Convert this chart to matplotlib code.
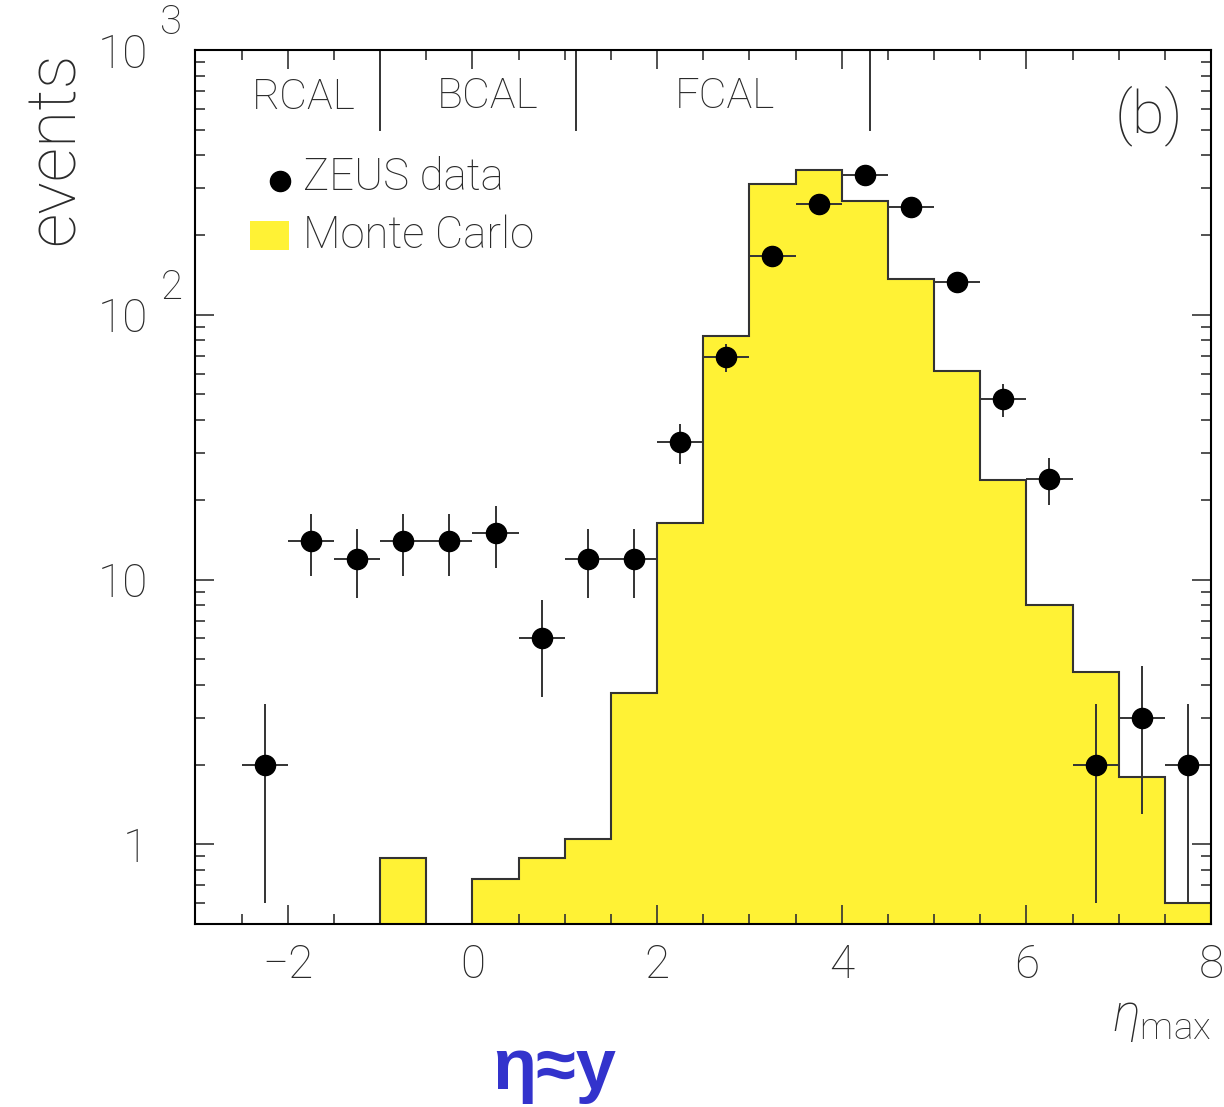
import numpy as np
import matplotlib
matplotlib.use("Agg")
import matplotlib.pyplot as plt
import matplotlib.transforms as mtransforms
from matplotlib.patches import Rectangle
from matplotlib.ticker import MultipleLocator, LogLocator, NullFormatter, FixedLocator

# ---------------- data ----------------
bin_edges = [-3.0, -2.5, -2.0, -1.5, -1.0, -0.5, 0.0, 0.5, 1.0, 1.5, 2.0, 2.5,
             3.0, 3.5, 4.0, 4.5, 5.0, 5.5, 6.0, 6.5, 7.0, 7.5, 8.0]
mc_counts = [0, 0, 0, 0, 0.89, 0, 0.74, 0.89, 1.05, 3.73, 16.4, 83,
             312, 352, 270, 136, 61.5, 23.8, 8.0, 4.48, 1.80, 0.60]

data_eta = [-2.25, -1.75, -1.25, -0.75, -0.25, 0.25, 0.75, 1.25, 1.75, 2.25, 2.75,
            3.25, 3.75, 4.25, 4.75, 5.25, 5.75, 6.25, 6.75, 7.25, 7.75]
data_events = [2, 14, 12, 14, 14, 15, 6, 12, 12, 33, 69,
               167, 262, 336, 255, 133, 48, 24, 2, 3, 2]
data_err = [1.4, 3.7, 3.5, 3.7, 3.7, 3.9, 2.4, 3.5, 3.5, 5.7, 8.3,
            12.9, 16.2, 18.3, 16.0, 11.5, 6.9, 4.9, 1.4, 1.7, 1.4]
data_xerr = [0.25] * 21

x_ticks = [-2, 0, 2, 4, 6, 8]
x_ticklabels = ["\u22122", "0", "2", "4", "6", "8"]
y_ticks = [1, 10, 100, 1000]
y_ticklabels = ["1", "10", "10", "10"]
y_superscripts = {100: "2", 1000: "3"}

region_labels = ["RCAL", "BCAL", "FCAL"]
region_label_x = [-1.83, 0.16, 2.74]
region_bounds = [-1.0, 1.12, 4.31]

# ---------------- style ----------------
plt.rcParams["font.family"] = ["Roboto", "DejaVu Sans"]
plt.rcParams["font.weight"] = "light"
plt.rcParams["mathtext.fontset"] = "custom"
plt.rcParams["mathtext.rm"] = "Roboto:light"
plt.rcParams["mathtext.it"] = "Roboto:italic:light"

TXT = "#2a2a2a"
YELLOW = "#fff235"
LINE = "#333333"

W, H = 1224, 1107
fig = plt.figure(figsize=(W / 100, H / 100), dpi=100)

ax_l, ax_r, ax_t, ax_b = 195.5, 1211, 50, 924
ax = fig.add_axes([ax_l / W, 1 - ax_b / H, (ax_r - ax_l) / W, (ax_b - ax_t) / H])

ax.set_yscale("log")
ax.set_xlim(-3, 8)
ax.set_ylim(0.5, 1000)

# Monte Carlo histogram
mc_plot = np.where(np.array(mc_counts) > 0, mc_counts, 1e-3)
ax.stairs(mc_plot, bin_edges, baseline=1e-3, fill=True, color=YELLOW, lw=0, zorder=1)
ax.stairs(mc_plot, bin_edges, baseline=1e-3, color=LINE, lw=1.5, zorder=2)

# ZEUS data
ax.errorbar(data_eta, data_events, yerr=data_err, xerr=data_xerr, fmt="o",
            color="black", ms=14.5, ecolor=LINE, elinewidth=1.4, capsize=0, zorder=4)

# ticks
ax.xaxis.set_major_locator(FixedLocator(x_ticks))
ax.xaxis.set_minor_locator(MultipleLocator(0.5))
ax.set_xticklabels(x_ticklabels)
ax.yaxis.set_major_locator(FixedLocator(y_ticks))
ax.yaxis.set_minor_locator(LogLocator(base=10, subs=np.arange(2, 10)))
ax.yaxis.set_minor_formatter(NullFormatter())
ax.set_yticklabels(y_ticklabels)

ax.tick_params(which="both", direction="in", top=True, right=True, color=LINE, width=1.2)
ax.tick_params(which="major", length=13.5)
ax.tick_params(which="minor", length=7)
ax.tick_params(axis="x", which="major", labelsize=33, pad=14, labelcolor=TXT)
ax.tick_params(axis="y", which="major", labelsize=33, pad=34, labelcolor=TXT)
for sp in ax.spines.values():
    sp.set_linewidth(1.5)
    sp.set_color("black")
    sp.set_zorder(6)

# superscripts of y tick labels
trans_y = mtransforms.blended_transform_factory(ax.transAxes, ax.transData)
for val, sup in y_superscripts.items():
    ax.annotate(sup, xy=(0, val), xycoords=trans_y, xytext=(-35, 8),
                textcoords="offset pixels", ha="left", va="bottom",
                fontsize=29, color=TXT, annotation_clip=False)

# calorimeter regions
trans_x = mtransforms.blended_transform_factory(ax.transData, ax.transAxes)
for xb in region_bounds:
    ax.plot([xb, xb], [(ax_b - 130) / (ax_b - ax_t), 1], transform=trans_x,
            color=LINE, lw=1.4, zorder=5)
for lab, xl in zip(region_labels, region_label_x):
    ax.text(xl, (ax_b - 97) / (ax_b - ax_t), lab, transform=trans_x,
            ha="center", va="center", fontsize=31, color=TXT)

def axfrac(px, py):
    return (px - ax_l) / (ax_r - ax_l), (ax_b - py) / (ax_b - ax_t)

# panel label
ax.text(*axfrac(1149, 116), "(b)", transform=ax.transAxes, ha="center", va="center",
        fontsize=43, color=TXT)

# legend (manual)
ax.plot(*axfrac(280, 181), "o", color="black", ms=14.5, transform=ax.transAxes, zorder=5)
ax.text(*axfrac(303, 178), "ZEUS data", transform=ax.transAxes, ha="left", va="center",
        fontsize=31.5, color=TXT)
x0, y0 = axfrac(250, 250)
x1, y1 = axfrac(289, 221)
ax.add_patch(Rectangle((x0, y0), x1 - x0, y1 - y0, transform=ax.transAxes,
                       facecolor=YELLOW, edgecolor="none", zorder=5))
ax.text(*axfrac(303, 236), "Monte Carlo", transform=ax.transAxes, ha="left", va="center",
        fontsize=31.5, color=TXT)

# axis titles
fig.text(55 / W, 1 - 148 / H, "events", rotation=90, ha="center", va="center",
         fontsize=49, color=TXT)
fig.text(1211 / W, 1 - 1018 / H, r"$\eta_{\mathrm{max}}$", ha="right", va="center",
         fontsize=38, color=TXT)

# annotation
fig.text(554 / W, 1 - 1070 / H, "\u03b7\u2248y", ha="center", va="center",
         fontsize=52, fontweight="bold", color="#3333cc",
         family=["Liberation Sans", "DejaVu Sans"])

fig.savefig("out.png", dpi=100)
